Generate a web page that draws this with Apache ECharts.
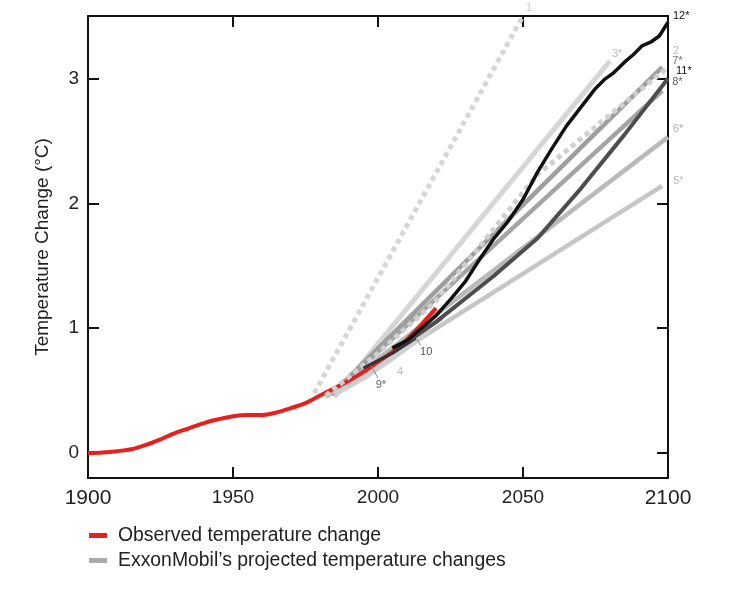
<!DOCTYPE html>
<html><head><meta charset="utf-8">
<script src="https://cdn.jsdelivr.net/npm/echarts@6/dist/echarts.min.js"></script>
<style>html,body{margin:0;padding:0;background:#fff}#c{width:748px;height:602px}</style>
</head><body><div id="c"></div>
<script>
// ---- tick labels ----
const yearTicks = [1900, 1950, 2000, 2050, 2100];
const tempTicks = [0, 1, 2, 3];

// ---- observed temperature change ----
const obsYears = [1900,1905,1910,1915,1920,1925,1930,1935,1940,1945,1950,1955,1960,1965,1970,1975,1980,1985,1990,1995,2000,2005,2010,2015,2020];
const obsTemp  = [0.00,0.005,0.015,0.03,0.065,0.11,0.16,0.20,0.24,0.27,0.295,0.305,0.305,0.325,0.36,0.40,0.46,0.52,0.58,0.65,0.73,0.81,0.91,1.03,1.16];

// ---- ExxonMobil projections ----
const p1Years  = [1978, 2050];             const p1Temp  = [0.48, 3.50];
const p2Years  = [1982, 2000, 2020, 2055, 2100]; const p2Temp = [0.46, 0.80, 1.22, 2.23, 3.09];
const p3Years  = [1985, 2080];             const p3Temp  = [0.45, 3.14];
const p4Years  = [1985, 1995, 2005, 2018]; const p4Temp  = [0.47, 0.60, 0.76, 0.98];
const p5Years  = [1984, 2098];             const p5Temp  = [0.47, 2.14];
const p6Years  = [1984, 2100];             const p6Temp  = [0.47, 2.53];
const p7Years  = [1984, 2098];             const p7Temp  = [0.47, 3.09];
const p8Years  = [1984, 2098];             const p8Temp  = [0.47, 2.90];
const p9Years  = [1982, 2022];             const p9Temp  = [0.45, 1.08];
const p10Years = [1995, 2005, 2013];       const p10Temp = [0.68, 0.80, 0.92];
const p11Years = [2005, 2012, 2020, 2040, 2055, 2070, 2085, 2100];
const p11Temp  = [0.84, 0.92, 1.05, 1.42, 1.72, 2.12, 2.55, 3.00];
const p12Years = [2005,2010,2015,2020,2025,2030,2035,2040,2045,2050,2055,2060,2065,2070,2075,2078,2081,2085,2088,2091,2094,2097,2100];
const p12Temp  = [0.84,0.90,1.00,1.10,1.23,1.37,1.55,1.72,1.86,2.03,2.25,2.44,2.62,2.77,2.92,2.99,3.04,3.13,3.19,3.26,3.29,3.34,3.45];

const FONT = 'Liberation Sans, Arial, Helvetica, sans-serif';
const pairs = (xs, ys) => xs.map((x, i) => [x, ys[i]]);

function proj(label, xs, ys, color, width, opts) {
  opts = opts || {};
  const s = {
    type: 'line', name: 'proj' + label, data: pairs(xs, ys),
    showSymbol: false, symbol: 'none', silent: true, animation: false,
    z: opts.z || 2,
    lineStyle: { color: color, width: width, type: opts.dash || 'solid', cap: 'butt' },
    emphasis: { disabled: true }
  };
  if (opts.end) {
    s.endLabel = { show: true, formatter: label, color: opts.labelColor || color,
      fontSize: 11, fontFamily: FONT, offset: opts.end, distance: 5 };
  }
  return s;
}

const series = [
  proj('1', p1Years, p1Temp, '#d6d6d6', 5, { dash: [5, 4], end: [-2, -8], labelColor: '#c8c8c8' }),
  proj('3*', p3Years, p3Temp, '#d6d6d6', 5, { end: [-3, -7], labelColor: '#bdbdbd' }),
  proj('5*', p5Years, p5Temp, '#c6c6c6', 4.5, { end: [6, -5], labelColor: '#bdbdbd' }),
  proj('6*', p6Years, p6Temp, '#bababa', 4.5, { end: [0, -8], labelColor: '#b0b0b0' }),
  proj('8*', p8Years, p8Temp, '#a4a4a4', 4.5, { end: [5, -9], labelColor: '#666' }),
  proj('7*', p7Years, p7Temp, '#9e9e9e', 4.5, { end: [5, -6], labelColor: '#777' }),
  proj('9*', p9Years, p9Temp, '#b0b0b0', 4.5, {}),
  proj('4', p4Years, p4Temp, '#cfcfcf', 5, {}),
  {
    type: 'line', name: 'Observed temperature change', data: pairs(obsYears, obsTemp),
    showSymbol: false, symbol: 'none', smooth: 0.3, silent: true, animation: false, z: 3,
    color: '#e8201d',
    lineStyle: { color: '#e8201d', width: 4 },
    markPoint: {
      symbol: 'circle', symbolSize: 0, silent: true, animation: false,
      label: { show: true, fontSize: 11, fontFamily: FONT },
      data: [
        { coord: [2001.0, 0.544], label: { formatter: '9*', color: '#666' } },
        { coord: [2016.6, 0.81], label: { formatter: '10', color: '#555' } },
        { coord: [2007.6, 0.65], label: { formatter: '4', color: '#bbb' } }
      ]
    },
    markLine: {
      symbol: 'none', silent: true, animation: false, label: { show: false },
      lineStyle: { color: '#888', width: 1, type: 'solid' },
      data: [
        [{ coord: [2000.0, 0.60] }, { coord: [1997.6, 0.70] }],
        [{ coord: [2014.8, 0.86] }, { coord: [2013.4, 0.91] }]
      ]
    }
  },
  proj('2', p2Years, p2Temp, '#d0d0d0', 5, { dash: [5, 4], end: [0, -16], labelColor: '#bdbdbd', z: 4 }),
  proj('10', p10Years, p10Temp, '#333333', 3, { z: 5 }),
  proj('11*', p11Years, p11Temp, '#4d4d4d', 4, { end: [3, -7], labelColor: '#111', z: 5 }),
  proj('12*', p12Years, p12Temp, '#111111', 3.5, { end: [0, -6], labelColor: '#111', z: 6 }),
  { type: 'line', name: 'ExxonMobil’s projected temperature changes', data: [], color: '#aaaaaa',
    lineStyle: { color: '#aaaaaa' } }
];

const axisLine = { show: true, onZero: false, lineStyle: { color: '#111', width: 2 } };
const tick = { show: true, inside: true, length: 11, lineStyle: { color: '#111', width: 2 } };

const option = {
  animation: false,
  backgroundColor: '#fff',
  grid: { left: 88, right: 80, top: 16, bottom: 124, containLabel: false },
  legend: {
    orient: 'vertical', left: 84, top: 521, icon: 'rect', itemWidth: 18, itemHeight: 5,
    itemGap: 6, selectedMode: false,
    textStyle: { fontSize: 19.4, fontFamily: FONT, color: '#222', padding: [0, 0, 0, 6] },
    data: ['Observed temperature change', 'ExxonMobil’s projected temperature changes']
  },
  xAxis: [
    { type: 'value', position: 'bottom', min: yearTicks[0], max: yearTicks[yearTicks.length - 1],
      interval: 50, axisLine: axisLine, axisTick: tick, splitLine: { show: false },
      axisLabel: { margin: 10, fontSize: 19, fontFamily: FONT, color: '#222',
        formatter: v => (v === yearTicks[0] || v === yearTicks[yearTicks.length - 1]) ? '{big|' + v + '}' : String(v),
        rich: { big: { fontSize: 21, fontFamily: FONT, color: '#222' } } } },
    { type: 'value', position: 'top', min: yearTicks[0], max: yearTicks[yearTicks.length - 1],
      interval: 50, axisLine: axisLine, axisTick: tick, splitLine: { show: false },
      axisLabel: { show: false } }
  ],
  yAxis: [
    { type: 'value', position: 'left', min: -0.2, max: 3.5,
      axisLine: axisLine, axisTick: Object.assign({}, tick, { customValues: tempTicks }),
      splitLine: { show: false },
      axisLabel: { customValues: tempTicks, margin: 9, fontSize: 19, fontFamily: FONT, color: '#222' },
      name: 'Temperature Change (°C)', nameLocation: 'middle', nameGap: 36, nameRotate: 90,
      nameTextStyle: { fontSize: 19, fontFamily: FONT, color: '#222' } },
    { type: 'value', position: 'right', min: -0.2, max: 3.5,
      axisLine: axisLine, axisTick: Object.assign({}, tick, { customValues: tempTicks }),
      splitLine: { show: false }, axisLabel: { show: false } }
  ],
  series: series
};

const chart = echarts.init(document.getElementById('c'), null, { renderer: 'canvas' });
chart.setOption(option);
</script>
</body></html>
